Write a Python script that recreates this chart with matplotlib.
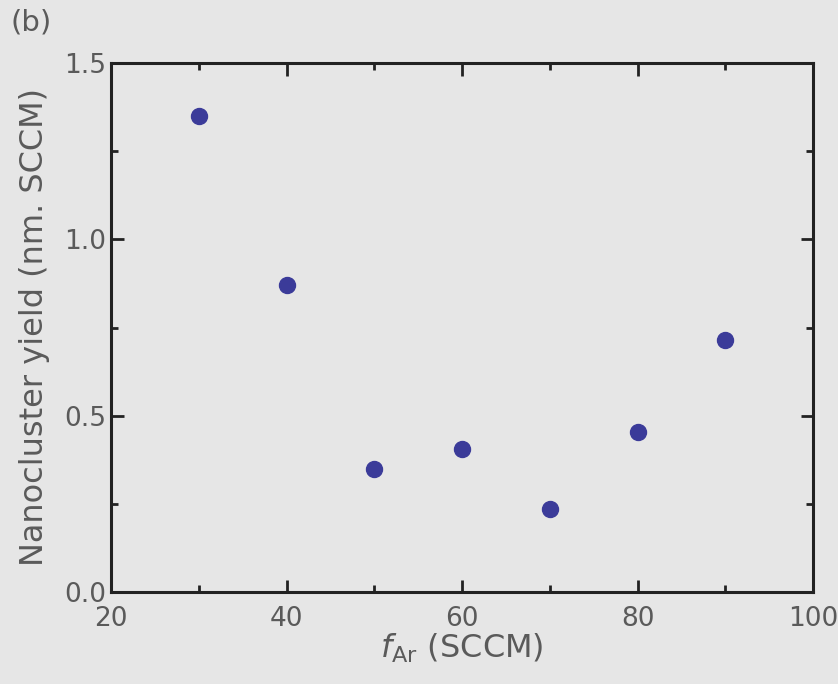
import numpy as np
import matplotlib.pyplot as plt
from matplotlib.ticker import MultipleLocator

# data
f_ar = [30, 40, 50, 60, 70, 80, 90]
yield_vals = [1.35, 0.87, 0.35, 0.405, 0.235, 0.455, 0.715]

BG = "#e6e6e6"
TXT = "#5a5a5a"

plt.rcParams['font.family'] = ['DejaVu Sans']

fig = plt.figure(figsize=(8.38, 6.84), dpi=100, facecolor=BG)
ax = fig.add_axes([111/838, 1 - 592/684, (813-111)/838, (592-63)/684])
ax.set_facecolor(BG)

ax.plot(f_ar, yield_vals, 'o', color="#3b3b99", markersize=11.5)

ax.set_xlim(20, 100)
ax.set_ylim(0, 1.5)
ax.xaxis.set_major_locator(MultipleLocator(20))
ax.xaxis.set_minor_locator(MultipleLocator(10))
ax.yaxis.set_major_locator(MultipleLocator(0.5))
ax.yaxis.set_minor_locator(MultipleLocator(0.25))
ax.yaxis.set_major_formatter(plt.FormatStrFormatter('%.1f'))

ax.tick_params(which='both', direction='in', top=True, right=True,
               labelsize=19, labelcolor=TXT, color="#222222")
ax.tick_params(which='major', length=9, width=2)
ax.tick_params(which='minor', length=5, width=2)
ax.tick_params(axis='x', pad=10)
for s in ax.spines.values():
    s.set_linewidth(2.2)
    s.set_color("#222222")

ax.set_xlabel(r"$f_{\mathrm{Ar}}$ (SCCM)", fontsize=23, color=TXT, labelpad=0)
ax.set_ylabel("Nanocluster yield (nm. SCCM)", fontsize=23, color=TXT, labelpad=10)
fig.text(10/838, 1 - 22/684, "(b)", fontsize=21, color=TXT, va='center')

fig.savefig("out.png", dpi=100, facecolor=BG)
